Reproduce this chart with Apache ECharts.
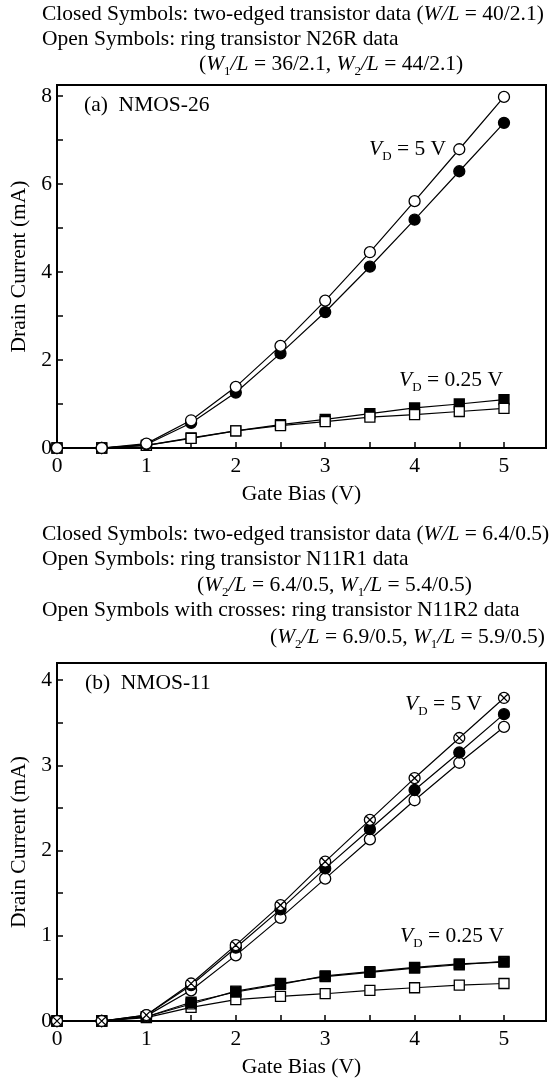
<!DOCTYPE html>
<html>
<head>
<meta charset="utf-8">
<script src="https://cdn.jsdelivr.net/npm/echarts@6/dist/echarts.min.js"></script>
<style>
  html, body { margin: 0; padding: 0; background: #fff; }
  #chart { width: 549px; height: 1079px; }
</style>
</head>
<body>
<div id="chart"></div>
<script>
// gate bias steps (V), shared by both panels
const gateBias = [0, 0.5, 1, 1.5, 2, 2.5, 3, 3.5, 4, 4.5, 5];

// (a) NMOS-26, drain current in mA
const a26ClosedVd5 = [0, 0, 0.08, 0.57, 1.26, 2.15, 3.09, 4.12, 5.19, 6.29, 7.39];
const a26OpenVd5 = [0, 0, 0.1, 0.63, 1.39, 2.32, 3.35, 4.45, 5.61, 6.79, 7.98];
const a26ClosedVd025 = [0, 0, 0.06, 0.23, 0.39, 0.53, 0.65, 0.78, 0.91, 1.0, 1.1];
const a26OpenVd025 = [0, 0, 0.06, 0.22, 0.39, 0.51, 0.6, 0.7, 0.76, 0.83, 0.9];

// (b) NMOS-11, drain current in mA
const b11CrossVd5 = [0, 0, 0.07, 0.44, 0.89, 1.36, 1.87, 2.36, 2.85, 3.32, 3.79];
const b11ClosedVd5 = [0, 0, 0.07, 0.42, 0.86, 1.31, 1.79, 2.25, 2.71, 3.15, 3.6];
const b11OpenVd5 = [0, 0, 0.06, 0.36, 0.77, 1.21, 1.67, 2.13, 2.59, 3.03, 3.45];
const b11CrossVd025 = [0, 0, 0.05, 0.2, 0.35, 0.44, 0.52, 0.57, 0.62, 0.66, 0.7];
const b11ClosedVd025 = [0, 0, 0.05, 0.22, 0.34, 0.43, 0.53, 0.58, 0.63, 0.67, 0.69];
const b11OpenVd025 = [0, 0, 0.04, 0.16, 0.25, 0.29, 0.32, 0.36, 0.39, 0.42, 0.44];

const xTickLabels = ["0", "1", "2", "3", "4", "5"];
const yTickLabelsA = ["0", "2", "4", "6", "8"];
const yTickLabelsB = ["0", "1", "2", "3", "4"];

const FONT = "'Liberation Serif', 'DejaVu Serif', serif";
const FS = 21.5;

const crossCircle = "path://M20,10 A10,10 0 1,1 0,10 A10,10 0 1,1 20,10 Z M2.93,2.93 L17.07,17.07 M17.07,2.93 L2.93,17.07";
const crossSquare = "path://M0,0 L20,0 L20,20 L0,20 Z M0,0 L20,20 M20,0 L0,20";

const chart = echarts.init(document.getElementById("chart"));

const rich = {
  i: { fontFamily: FONT, fontSize: FS, fontStyle: "italic", color: "#000", lineHeight: 24 },
  s: { fontFamily: FONT, fontSize: 13, color: "#000", lineHeight: 24, padding: [15, 0, 0, 0] },
};

const note = (text, pos) => ({
  text,
  ...pos,
  padding: 0,
  textStyle: {
    fontFamily: FONT,
    fontSize: FS,
    fontWeight: "normal",
    color: "#000",
    lineHeight: 24,
    rich,
  },
});

const pair = (xs, ys) => xs.map((x, k) => [x, ys[k]]);

const makeSeries = (idx, ys, symbol, fill, size) => ({
  type: "line",
  xAxisIndex: idx,
  yAxisIndex: idx,
  data: pair(gateBias, ys),
  symbol,
  symbolSize: size,
  showSymbol: true,
  itemStyle: { color: fill, borderColor: "#000", borderWidth: 1.3 },
  lineStyle: { color: "#000", width: 1.2 },
  emphasis: { disabled: true },
  animation: false,
});

const xAxisFor = (idx) => ({
  gridIndex: idx,
  type: "value",
  min: 0,
  max: 5.47,
  interval: 0.5,
  name: "Gate Bias (V)",
  nameLocation: "middle",
  nameGap: 35,
  nameTextStyle: { fontFamily: FONT, fontSize: FS, color: "#000" },
  axisLine: { lineStyle: { color: "#000", width: 2 } },
  axisTick: { inside: true, length: 6, lineStyle: { color: "#000", width: 1.5 } },
  axisLabel: {
    fontFamily: FONT,
    fontSize: FS,
    color: "#000",
    margin: 7,
    formatter: (v) => (Number.isInteger(v) ? xTickLabels[v] : ""),
  },
  splitLine: { show: false },
});

const yAxisFor = (idx, max, labels, step) => ({
  gridIndex: idx,
  type: "value",
  min: 0,
  max,
  interval: step / 2,
  name: "Drain Current (mA)",
  nameLocation: "middle",
  nameGap: 27,
  nameTextStyle: { fontFamily: FONT, fontSize: FS, color: "#000" },
  axisLine: { lineStyle: { color: "#000", width: 2 } },
  axisTick: { inside: true, length: 6, lineStyle: { color: "#000", width: 1.5 } },
  axisLabel: {
    fontFamily: FONT,
    fontSize: FS,
    color: "#000",
    margin: 5,
    formatter: (v) => {
      const k = Math.round(v / step);
      return Math.abs(k * step - v) < 1e-6 && labels[k] !== undefined ? labels[k] : "";
    },
  },
  splitLine: { show: false },
});

const option = {
  backgroundColor: "#fff",
  animation: false,
  title: [
    note("Closed Symbols: two-edged transistor data ({i|W/L} = 40/2.1)", { left: 42, top: 2 }),
    note("Open Symbols: ring transistor N26R data", { left: 42, top: 27 }),
    note("({i|W}{s|1}{i|/L} = 36/2.1, {i|W}{s|2}{i|/L} = 44/2.1)", { left: 199, top: 52 }),
    note("(a)  NMOS-26", { left: 84, top: 93 }),
    note("{i|V}{s|D} = 5 V", { left: 369, top: 137 }),
    note("{i|V}{s|D} = 0.25 V", { left: 399, top: 368 }),

    note("Closed Symbols: two-edged transistor data ({i|W/L} = 6.4/0.5)", { left: 42, top: 522 }),
    note("Open Symbols: ring transistor N11R1 data", { left: 42, top: 547 }),
    note("({i|W}{s|2}{i|/L} = 6.4/0.5, {i|W}{s|1}{i|/L} = 5.4/0.5)", { left: 197, top: 573 }),
    note("Open Symbols with crosses: ring transistor N11R2 data", { left: 42, top: 598 }),
    note("({i|W}{s|2}{i|/L} = 6.9/0.5, {i|W}{s|1}{i|/L} = 5.9/0.5)", { right: 4, top: 625 }),
    note("(b)  NMOS-11", { left: 85, top: 671 }),
    note("{i|V}{s|D} = 5 V", { left: 405, top: 692 }),
    note("{i|V}{s|D} = 0.25 V", { left: 400, top: 924 }),
  ],
  grid: [
    { left: 57, top: 85, width: 490, height: 363, show: true, borderColor: "#000", borderWidth: 2, containLabel: false },
    { left: 57, top: 663, width: 490, height: 359, show: true, borderColor: "#000", borderWidth: 2, containLabel: false },
  ],
  xAxis: [xAxisFor(0), xAxisFor(1)],
  yAxis: [yAxisFor(0, 8.25, yTickLabelsA, 2), yAxisFor(1, 4.2, yTickLabelsB, 1)],
  series: [
    makeSeries(0, a26ClosedVd025, "rect", "#000", 10),
    makeSeries(0, a26OpenVd025, "rect", "#fff", 10),
    makeSeries(0, a26ClosedVd5, "circle", "#000", 11),
    makeSeries(0, a26OpenVd5, "circle", "#fff", 11),

    makeSeries(1, b11OpenVd025, "rect", "#fff", 10),
    makeSeries(1, b11CrossVd025, crossSquare, "#fff", 10),
    makeSeries(1, b11ClosedVd025, "rect", "#000", 10),
    makeSeries(1, b11OpenVd5, "circle", "#fff", 11),
    makeSeries(1, b11ClosedVd5, "circle", "#000", 11),
    makeSeries(1, b11CrossVd5, crossCircle, "#fff", 11),
  ],
};

chart.setOption(option);
</script>
</body>
</html>
